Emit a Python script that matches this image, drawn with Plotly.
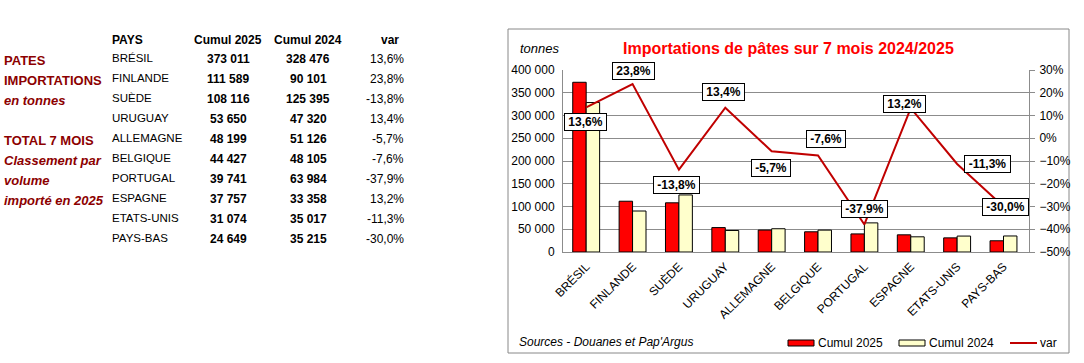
import plotly.graph_objects as go

# ---------------- data ----------------
countries = ["BRÉSIL", "FINLANDE", "SUÈDE", "URUGUAY", "ALLEMAGNE",
             "BELGIQUE", "PORTUGAL", "ESPAGNE", "ETATS-UNIS", "PAYS-BAS"]
cumul_2025 = [373011, 111589, 108116, 53650, 48199, 44427, 39741, 37757, 31074, 24649]
cumul_2024 = [328476, 90101, 125395, 47320, 51126, 48105, 63984, 33358, 35017, 35215]
var_pct = [13.6, 23.8, -13.8, 13.4, -5.7, -7.6, -37.9, 13.2, -11.3, -30.0]

left_tick_vals = [0, 50000, 100000, 150000, 200000, 250000, 300000, 350000, 400000]
right_tick_vals = [-0.5, -0.4, -0.3, -0.2, -0.1, 0.0, 0.1, 0.2, 0.3]

series_names = ["Cumul 2025", "Cumul 2024", "var"]

# label offsets (pixels) for the var data labels -- style only
label_dx = [-1, 1, -2, -2, -1, 8, 0, -6, 30, 2]
label_dy = [-15, 13, -15, 16, -17, 17, 15, 4, 0, 0]

W, H = 1084, 363
FONT = "Liberation Sans, Arial, sans-serif"
DARK_RED = "#8C0000"
RED = "#FF0000"
YELLOW = "#FFFFCC"
LINE_RED = "#C00000"
GRID = "#8C8C8C"


def px(x):
    return x / W


def py(y):
    return 1 - y / H


def fmt_int(v):
    return f"{v:,}".replace(",", " ")


def fmt_pct(v):
    return f"{v:.1f}%".replace(".", ",")


def bold_width(s):
    # approximate width of bold 12px Arial text (for label box padding)
    w = 0.0
    for ch in s:
        if ch.isdigit():
            w += 6.67
        elif ch == ",":
            w += 3.33
        elif ch == "%":
            w += 10.67
        elif ch == "-":
            w += 4.0
        else:
            w += 6.5
    return w


fig = go.Figure()

fig.add_trace(go.Bar(
    x=countries, y=cumul_2025, name=series_names[0],
    marker=dict(color=RED, line=dict(color="black", width=1)),
))
fig.add_trace(go.Bar(
    x=countries, y=cumul_2024, name=series_names[1],
    marker=dict(color=YELLOW, line=dict(color="black", width=1)),
))
fig.add_trace(go.Scatter(
    x=countries, y=[v / 100 for v in var_pct], name=series_names[2], yaxis="y2",
    mode="lines", line=dict(color=LINE_RED, width=2),
))

annotations = []
shapes = []

# data labels on the var line
for i, (c, v) in enumerate(zip(countries, var_pct)):
    t = fmt_pct(v)
    annotations.append(dict(
        x=c, y=v / 100, xref="x", yref="y2", text=f"<b>{t}</b>",
        showarrow=False, xshift=label_dx[i], yshift=label_dy[i],
        bgcolor="white", bordercolor="black", borderwidth=1, borderpad=1,
        width=round(bold_width(t) + 5),
        font=dict(family=FONT, size=12, color="black"),
        xanchor="center", yanchor="middle", align="center",
    ))

# chart title and texts inside the frame
annotations.append(dict(
    x=px(788), y=py(48), xref="paper", yref="paper",
    text="<b>Importations de pâtes sur 7 mois 2024/2025</b>", showarrow=False,
    font=dict(family=FONT, size=16, color="#FF0000"), xanchor="center", yanchor="middle"))
annotations.append(dict(
    x=px(518), y=py(48), xref="paper", yref="paper", text="<i>tonnes</i>",
    showarrow=False, font=dict(family=FONT, size=13, color="black"),
    xanchor="left", yanchor="middle"))
annotations.append(dict(
    x=px(517), y=py(342), xref="paper", yref="paper",
    text="<i>Sources - Douanes et Pap'Argus</i>", showarrow=False,
    font=dict(family=FONT, size=12, color="black"), xanchor="left", yanchor="middle"))

# ---------------- manual legend (Excel style) ----------------
leg_x = [788, 899, 1010]
leg_y = 343
for k, name in enumerate(series_names):
    x0 = leg_x[k]
    if k < 2:
        shapes.append(dict(type="rect", xref="paper", yref="paper",
                           x0=px(x0), x1=px(x0 + 26), y0=py(leg_y + 3), y1=py(leg_y - 3),
                           fillcolor=RED if k == 0 else YELLOW,
                           line=dict(color="black", width=1)))
    else:
        shapes.append(dict(type="line", xref="paper", yref="paper",
                           x0=px(x0), x1=px(x0 + 27), y0=py(leg_y), y1=py(leg_y),
                           line=dict(color=LINE_RED, width=2)))
    annotations.append(dict(x=px(x0 + 28), y=py(leg_y), xref="paper", yref="paper",
                            text=name, showarrow=False, xanchor="left", yanchor="middle",
                            font=dict(family=FONT, size=12, color="black")))

# ---------------- left table ----------------
header_y = 40
annotations.append(dict(x=px(110), y=py(header_y), xref="paper", yref="paper",
                        text="<b>PAYS</b>", showarrow=False, xanchor="left", yanchor="middle",
                        font=dict(family=FONT, size=12, color="black")))
for txt, cx in [("Cumul 2025", 228), ("Cumul 2024", 308), ("var", 390)]:
    annotations.append(dict(x=px(cx), y=py(header_y), xref="paper", yref="paper",
                            text=f"<b>{txt}</b>", showarrow=False, xanchor="center",
                            yanchor="middle", font=dict(family=FONT, size=12, color="black")))

for i, c in enumerate(countries):
    yy = 58 + 20 * i
    annotations.append(dict(x=px(110), y=py(yy), xref="paper", yref="paper", text=c,
                            showarrow=False, xanchor="left", yanchor="middle",
                            font=dict(family=FONT, size=11.5, color="black")))
    annotations.append(dict(x=px(228), y=py(yy + 1), xref="paper", yref="paper",
                            text=f"<b>{fmt_int(cumul_2025[i])}</b>", showarrow=False,
                            xanchor="center", yanchor="middle",
                            font=dict(family=FONT, size=12, color="black")))
    annotations.append(dict(x=px(308), y=py(yy + 1), xref="paper", yref="paper",
                            text=f"<b>{fmt_int(cumul_2024[i])}</b>", showarrow=False,
                            xanchor="center", yanchor="middle",
                            font=dict(family=FONT, size=12, color="black")))
    annotations.append(dict(x=px(406), y=py(yy + 1), xref="paper", yref="paper",
                            text=fmt_pct(var_pct[i]), showarrow=False,
                            xanchor="right", yanchor="middle",
                            font=dict(family=FONT, size=12, color="black")))

side_texts = [("<b>PATES</b>", 60), ("<b>IMPORTATIONS</b>", 80), ("<b><i>en tonnes</i></b>", 100),
              ("<b>TOTAL 7 MOIS</b>", 140), ("<b><i>Classement par</i></b>", 160),
              ("<b><i>volume</i></b>", 180), ("<b><i>importé en 2025</i></b>", 200)]
for txt, yy in side_texts:
    annotations.append(dict(x=px(2), y=py(yy), xref="paper", yref="paper", text=txt,
                            showarrow=False, xanchor="left", yanchor="middle",
                            font=dict(family=FONT, size=13, color=DARK_RED)))

# chart frame
shapes.append(dict(type="rect", xref="paper", yref="paper",
                   x0=px(508), x1=px(1069), y0=py(353), y1=py(29),
                   line=dict(color="#888888", width=1), fillcolor="rgba(0,0,0,0)",
                   layer="below"))

fig.update_layout(
    width=W, height=H, autosize=False,
    margin=dict(l=0, r=0, t=0, b=0, pad=0),
    paper_bgcolor="white", plot_bgcolor="white",
    separators=", ",
    font=dict(family=FONT, size=12, color="black"),
    barmode="group", bargap=0.42, bargroupgap=0,
    showlegend=False,
    xaxis=dict(domain=[px(563), px(1029)], type="category", tickangle=-45,
               showline=True, linecolor=GRID, linewidth=1, ticks="",
               automargin=False, ticklabelstandoff=2,
               showgrid=False, tickfont=dict(family=FONT, size=12, color="black")),
    yaxis=dict(domain=[py(252), py(70)], range=[0, 400000], tickvals=left_tick_vals,
               tickformat=",d", showgrid=True, gridcolor=GRID, gridwidth=1,
               showline=True, linecolor=GRID, linewidth=1, zeroline=False,
               automargin=False, ticklabelstandoff=5,
               ticks="", tickfont=dict(family=FONT, size=12, color="black")),
    yaxis2=dict(overlaying="y", side="right", anchor="x", range=[-0.5, 0.3],
                tickvals=right_tick_vals, tickformat=".0%", showgrid=False,
                showline=True, linecolor=GRID, linewidth=1, zeroline=False,
                automargin=False, ticklabelstandoff=2,
                ticks="outside", ticklen=5, tickcolor=GRID,
                tickfont=dict(family=FONT, size=12, color="black")),
    annotations=annotations,
    shapes=shapes,
)

fig.write_html("out.html", config={"displayModeBar": False},
               post_script="document.body.style.margin='0';")
